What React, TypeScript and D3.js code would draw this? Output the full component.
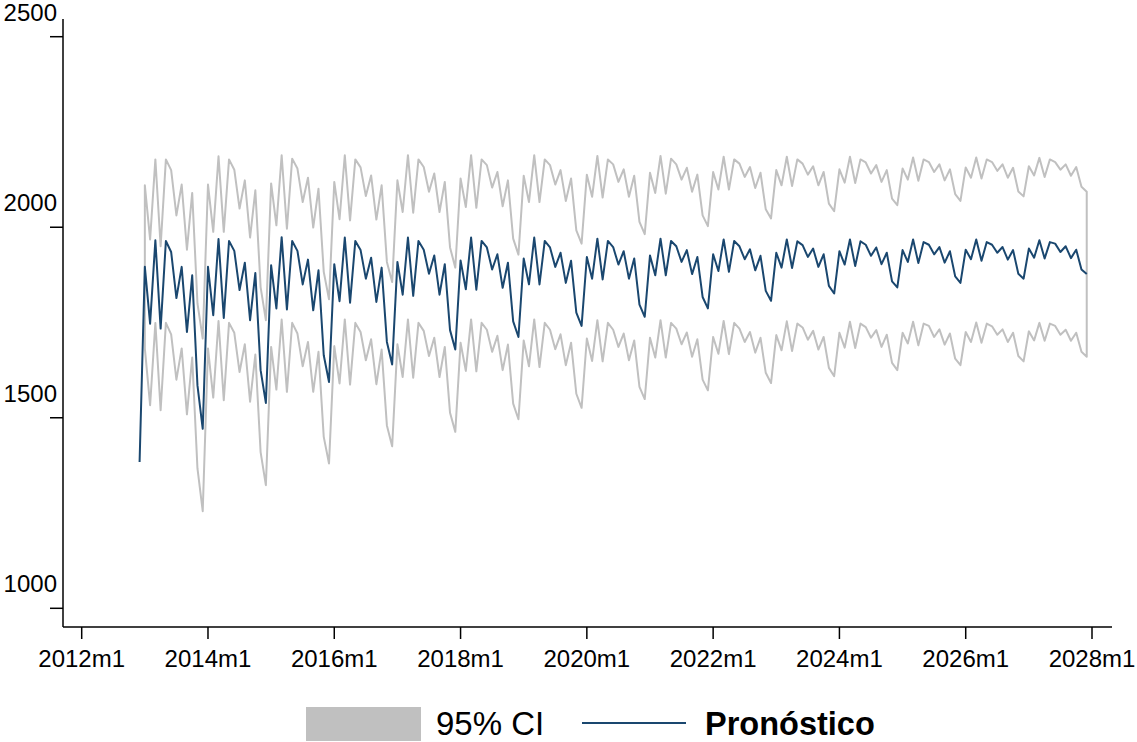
import React from 'react';
import * as d3 from 'd3';

// months counted from 2012m1 (index 0)
const forecastStart = 11; // 2012m12
const ciStart = 12; // 2013m1

const forecast = [
  1384,
  1896, 1747, 1966, 1734, 1964, 1935, 1814, 1896, 1725, 1874, 1585, 1471,
  1896, 1769, 1969, 1762, 1964, 1938, 1835, 1907, 1756, 1880, 1625, 1539,
  1900, 1787, 1974, 1784, 1964, 1938, 1850, 1915, 1782, 1887, 1664, 1594,
  1903, 1806, 1973, 1802, 1964, 1940, 1865, 1920, 1804, 1894, 1699, 1640,
  1909, 1823, 1973, 1820, 1964, 1941, 1878, 1926, 1823, 1903, 1730, 1679,
  1913, 1837, 1973, 1836, 1964, 1947, 1889, 1929, 1841, 1907, 1753, 1712,
  1918, 1850, 1973, 1850, 1964, 1947, 1896, 1933, 1854, 1912, 1776, 1741,
  1922, 1865, 1970, 1863, 1964, 1948, 1902, 1937, 1865, 1918, 1797, 1765,
  1926, 1874, 1970, 1874, 1964, 1950, 1909, 1940, 1877, 1922, 1817, 1787,
  1929, 1885, 1968, 1883, 1964, 1950, 1916, 1942, 1887, 1925, 1833, 1807,
  1933, 1894, 1968, 1893, 1963, 1953, 1922, 1944, 1896, 1929, 1846, 1826,
  1937, 1902, 1968, 1898, 1963, 1954, 1925, 1947, 1903, 1933, 1858, 1842,
  1940, 1909, 1968, 1906, 1961, 1954, 1929, 1948, 1907, 1937, 1871, 1854,
  1941, 1916, 1968, 1912, 1961, 1954, 1933, 1948, 1915, 1940, 1878, 1865,
  1944, 1920, 1966, 1918, 1961, 1957, 1935, 1950, 1919, 1941, 1889, 1877,
];

const upper = [
  2110, 1968, 2178, 1950, 2178, 2150, 2031, 2112, 1941, 2090, 1800, 1708,
  2112, 1988, 2186, 1988, 2178, 2151, 2049, 2123, 1973, 2097, 1843, 1756,
  2115, 2005, 2189, 1996, 2180, 2154, 2066, 2130, 1999, 2101, 1883, 1811,
  2119, 2021, 2189, 2018, 2178, 2157, 2082, 2136, 2020, 2110, 1909, 1856,
  2123, 2040, 2189, 2038, 2178, 2158, 2093, 2141, 2040, 2119, 1947, 1894,
  2128, 2053, 2189, 2051, 2178, 2163, 2104, 2145, 2055, 2123, 1970, 1928,
  2135, 2066, 2189, 2066, 2178, 2163, 2112, 2150, 2069, 2128, 1992, 1957,
  2138, 2080, 2187, 2078, 2178, 2165, 2119, 2152, 2080, 2135, 2014, 1982,
  2143, 2090, 2187, 2088, 2180, 2165, 2125, 2156, 2093, 2138, 2031, 2003,
  2145, 2099, 2185, 2099, 2178, 2167, 2132, 2158, 2103, 2143, 2047, 2023,
  2150, 2110, 2185, 2108, 2178, 2167, 2138, 2160, 2110, 2145, 2062, 2042,
  2152, 2117, 2185, 2116, 2178, 2170, 2141, 2163, 2119, 2150, 2075, 2058,
  2154, 2125, 2183, 2122, 2178, 2171, 2145, 2165, 2123, 2152, 2087, 2069,
  2157, 2130, 2183, 2128, 2178, 2171, 2148, 2165, 2130, 2156, 2094, 2081,
  2160, 2136, 2182, 2132, 2178, 2171, 2151, 2165, 2135, 2158, 2106, 2093,
];

const lower = [
  1682, 1533, 1749, 1520, 1749, 1719, 1600, 1682, 1509, 1658, 1367, 1255,
  1682, 1553, 1754, 1546, 1749, 1723, 1620, 1693, 1542, 1666, 1410, 1323,
  1686, 1574, 1758, 1568, 1749, 1721, 1635, 1699, 1568, 1673, 1450, 1380,
  1688, 1590, 1758, 1587, 1749, 1725, 1651, 1706, 1588, 1679, 1480, 1425,
  1693, 1607, 1758, 1605, 1749, 1728, 1662, 1710, 1607, 1686, 1513, 1463,
  1697, 1623, 1758, 1622, 1749, 1731, 1673, 1715, 1625, 1692, 1537, 1496,
  1703, 1635, 1758, 1633, 1749, 1731, 1680, 1719, 1638, 1697, 1563, 1526,
  1708, 1649, 1756, 1648, 1749, 1731, 1686, 1721, 1651, 1703, 1581, 1549,
  1710, 1658, 1756, 1658, 1749, 1734, 1693, 1724, 1660, 1706, 1600, 1572,
  1712, 1668, 1754, 1667, 1749, 1734, 1699, 1725, 1671, 1710, 1618, 1591,
  1717, 1677, 1753, 1675, 1747, 1737, 1705, 1728, 1679, 1712, 1631, 1609,
  1723, 1684, 1752, 1683, 1747, 1738, 1710, 1730, 1686, 1718, 1644, 1625,
  1723, 1695, 1752, 1690, 1747, 1741, 1712, 1732, 1692, 1721, 1655, 1638,
  1725, 1699, 1750, 1697, 1747, 1740, 1718, 1732, 1699, 1723, 1662, 1648,
  1727, 1703, 1749, 1702, 1747, 1741, 1718, 1731, 1702, 1723, 1673, 1660,
];

const xTickMonths = [0, 24, 48, 72, 96, 120, 144, 168, 192];
const xTickLabels = ['2012m1', '2014m1', '2016m1', '2018m1', '2020m1', '2022m1', '2024m1', '2026m1', '2028m1'];
const yTicks = [1000, 1500, 2000, 2500];

const W = 1137;
const H = 742;
const blue = '#1a476f';
const gray = '#c0c0c0';
const font = '"Liberation Sans", Arial, Helvetica, sans-serif';

export default function App() {
  const x = d3.scaleLinear().domain([0, 192]).range([81.7, 1092]);
  const y = d3.scaleLinear().domain([1000, 2500]).range([608.3, 36.7]);

  const fcLine = d3.line<number>()
    .x((_, i) => x(forecastStart + i))
    .y(d => y(d));

  const ciArea = d3.area<number>()
    .x((_, i) => x(ciStart + i))
    .y0((_, i) => y(lower[i]))
    .y1((_, i) => y(upper[i]));

  const axisX = 63;
  const axisY = 627;

  return (
    <div style={{ position: 'absolute', left: 0, top: 0 }}>
      <svg width={W} height={H} style={{ display: 'block', background: '#fff' }} fontFamily={font}>
        {/* confidence band outline */}
        <path d={ciArea(upper) || ''} fill="none" stroke={gray} strokeWidth={2} strokeLinejoin="round" />
        {/* forecast */}
        <path d={fcLine(forecast) || ''} fill="none" stroke={blue} strokeWidth={2} strokeLinejoin="round" />

        {/* y axis */}
        <line x1={axisX} x2={axisX} y1={19} y2={axisY} stroke="#000" strokeWidth={1.5} />
        {yTicks.map(t => (
          <g key={t}>
            <line x1={50} x2={axisX} y1={y(t)} y2={y(t)} stroke="#000" strokeWidth={1.5} />
            <text x={57} y={y(t) - 16} textAnchor="end" fontSize={24} fill="#000">{t}</text>
          </g>
        ))}

        {/* x axis */}
        <line x1={axisX} x2={1112} y1={axisY} y2={axisY} stroke="#000" strokeWidth={1.5} />
        {xTickMonths.map((m, i) => (
          <g key={m}>
            <line x1={x(m)} x2={x(m)} y1={axisY} y2={axisY + 12} stroke="#000" strokeWidth={1.5} />
            <text x={x(m)} y={667} textAnchor="middle" fontSize={24} fill="#000">{xTickLabels[i]}</text>
          </g>
        ))}

        {/* legend */}
        <rect x={306} y={707} width={115} height={34} fill={gray} />
        <text x={436} y={735} fontSize={33} fill="#000">95% CI</text>
        <line x1={582} x2={686} y1={723} y2={723} stroke={blue} strokeWidth={2} />
        <text x={705} y={735} fontSize={32.5} fontWeight="bold" fill="#000">Pronóstico</text>
      </svg>
    </div>
  );
}
